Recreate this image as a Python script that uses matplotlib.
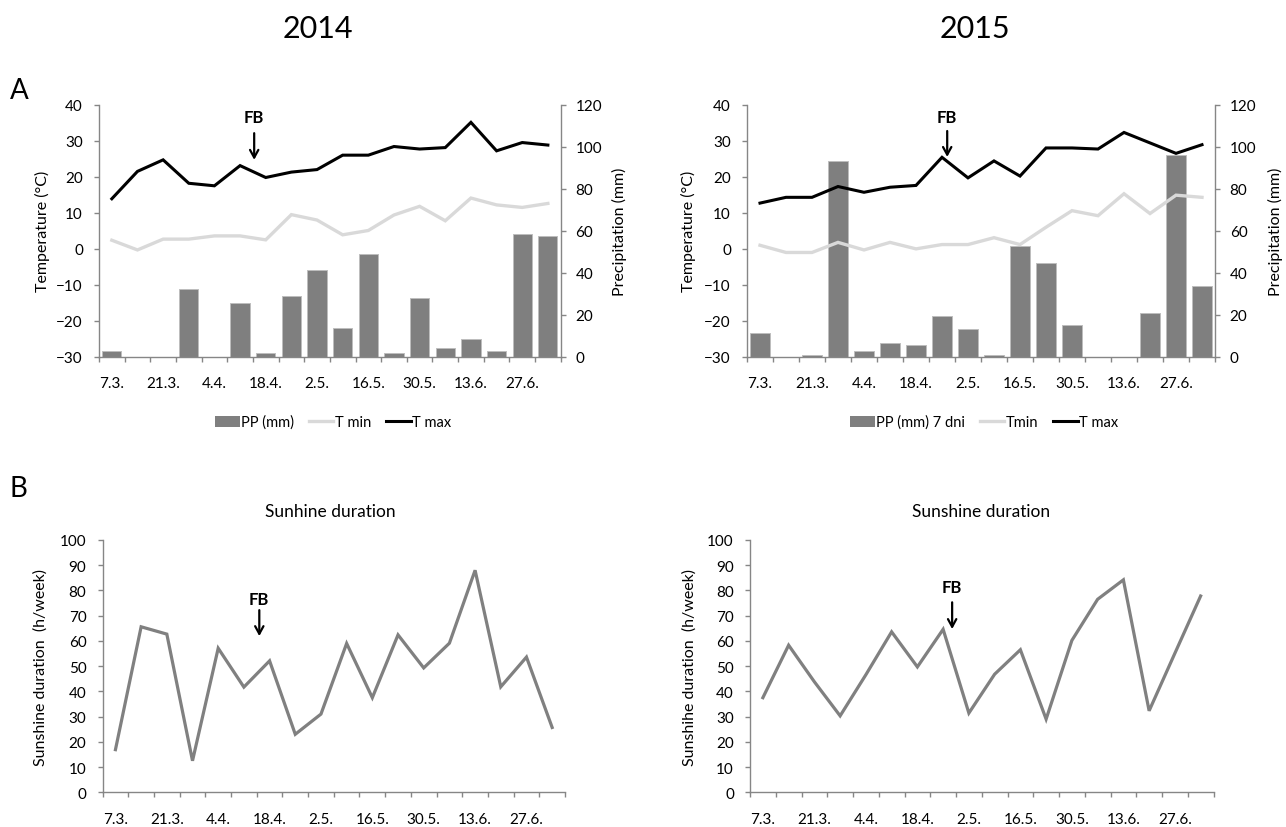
import matplotlib
matplotlib.use("Agg")
import matplotlib.pyplot as plt
from matplotlib.lines import Line2D
from matplotlib.patches import Patch
import numpy as np

plt.rcParams['font.family'] = ['Lato', 'DejaVu Sans']

# ---- data -------------------------------------------------------------
tick_labels = ["7.3.", "21.3.", "4.4.", "18.4.", "2.5.", "16.5.", "30.5.", "13.6.", "27.6."]

# weekly precipitation (mm), weekly min / max temperature (deg C)
pp_2014 = [3.0, 0, 0, 32.5, 0, 25.7, 2.0, 29.0, 41.4, 13.8, 49.0, 2.0, 28.2, 4.4, 8.6, 3.0, 58.5, 57.4]
tmin_2014 = [2.4, -0.3, 2.7, 2.7, 3.6, 3.6, 2.5, 9.5, 8.0, 3.9, 5.1, 9.4, 11.8, 7.8, 14.1, 12.2, 11.5, 12.6]
tmax_2014 = [13.9, 21.5, 24.7, 18.2, 17.5, 23.1, 19.8, 21.3, 22.0, 26.0, 26.0, 28.4, 27.7, 28.1, 35.1, 27.2, 29.5, 28.8]

pp_2015 = [11.6, 0, 0.8, 93.0, 3.0, 6.8, 5.5, 19.7, 13.3, 0.8, 52.7, 44.8, 15.2, 0, 0, 21.1, 96.3, 33.8]
tmin_2015 = [1.0, -1.0, -1.0, 1.8, -0.3, 1.8, 0.0, 1.2, 1.2, 3.1, 1.2, 6.0, 10.6, 9.2, 15.3, 9.8, 14.9, 14.3]
tmax_2015 = [12.7, 14.3, 14.3, 17.3, 15.7, 17.1, 17.6, 25.4, 19.7, 24.4, 20.2, 28.0, 28.0, 27.7, 32.3, 29.4, 26.5, 28.9]

# weekly sunshine duration (h/week)
sun_2014 = [16.9, 65.6, 62.7, 12.5, 57.1, 41.7, 52.1, 23.0, 31.0, 59.0, 37.5, 62.4, 49.3, 59.1, 88.0, 41.8, 53.6, 25.7]
sun_2015 = [37.5, 58.3, 43.8, 30.3, 46.6, 63.6, 49.7, 64.6, 31.4, 46.8, 56.5, 29.0, 60.2, 76.5, 84.2, 32.3, 55.1, 77.8]

# ---- styling ----------------------------------------------------------
W, H = 1286, 828
SPINE = '#868686'
BAR = '#7f7f7f'
TMIN = '#d9d9d9'
SUN = '#808080'
TICK_FS = 11
LABEL_FS = 11.5
LEGEND_FS = 10.5

fig = plt.figure(figsize=(W / 100, H / 100), dpi=100)


def px_axes(x0, x1, ytop, ybot):
    return fig.add_axes([x0 / W, 1 - ybot / H, (x1 - x0) / W, (ybot - ytop) / H])


def style_x(ax, n):
    ax.set_xlim(-0.5, n - 0.5)
    ax.set_xticks(np.arange(0, n, 2)[:len(tick_labels)])
    ax.set_xticklabels(tick_labels)
    ax.set_xticks(np.arange(-0.5, n, 1), minor=True)
    ax.tick_params(axis='x', which='major', length=0, pad=14, labelsize=TICK_FS)
    ax.tick_params(axis='x', which='minor', length=3.6, width=1, color=SPINE)


def fb_arrow(ax, x, y_text, y_top, y_tip):
    ax.text(x, y_text, 'FB', ha='center', va='baseline', fontsize=12,
            fontweight='bold', color='black')
    ax.annotate('', xy=(x, y_tip), xytext=(x, y_top),
                arrowprops=dict(arrowstyle='->,head_length=0.55,head_width=0.3',
                                color='black', lw=1.6, shrinkA=0, shrinkB=0))


def climate_panel(x0, x1, pp, tmin, tmax, left_lab_x, right_lab_x, fb):
    ax = px_axes(x0, x1, 105.7, 358)
    ax2 = ax.twinx()
    n = len(pp)
    x = np.arange(n)
    ax2.bar(x, pp, width=0.75, color=BAR, edgecolor='#bdbdbd', linewidth=0.7)
    ax.plot(x, tmin, color=TMIN, lw=2.4, solid_joinstyle='miter')
    ax.plot(x, tmax, color='black', lw=2.2, solid_joinstyle='miter')
    ax.set_zorder(ax2.get_zorder() + 1)
    ax.patch.set_visible(False)

    ax.set_ylim(-30, 40)
    ax.set_yticks(np.arange(-30, 41, 10))
    ax2.set_ylim(0, 120)
    ax2.set_yticks(np.arange(0, 121, 20))
    style_x(ax, n)

    for s in ['top', 'right']:
        ax.spines[s].set_visible(False)
    for s in ['top', 'left', 'bottom']:
        ax2.spines[s].set_visible(False)
    for a, s in [(ax, 'left'), (ax, 'bottom'), (ax2, 'right')]:
        a.spines[s].set_color(SPINE)
        a.spines[s].set_linewidth(1)
    ax.tick_params(axis='y', length=3.6, width=1, color=SPINE, pad=8, labelsize=TICK_FS)
    ax2.tick_params(axis='y', length=3.6, width=1, color=SPINE, pad=7, labelsize=TICK_FS)

    width = x1 - x0
    ax.set_ylabel('Temperature (°C)', fontsize=LABEL_FS)
    ax.yaxis.set_label_coords((left_lab_x - x0) / width, 0.5)
    ax.yaxis.label.set_verticalalignment('center')
    ax2.set_ylabel('Precipitation (mm)', fontsize=LABEL_FS)
    ax2.yaxis.set_label_coords((right_lab_x - x0) / width, 0.5)
    ax2.yaxis.label.set_verticalalignment('center')

    fb_arrow(ax, *fb)
    return ax


def sun_panel(x0, x1, sun, title, ylab, lab_x, title_x, fb):
    ax = px_axes(x0, x1, 541, 793.3)
    n = len(sun)
    ax.plot(np.arange(n), sun, color=SUN, lw=2.3, solid_joinstyle='miter')
    ax.set_ylim(0, 100)
    ax.set_yticks(np.arange(0, 101, 10))
    style_x(ax, n)
    for s in ['top', 'right']:
        ax.spines[s].set_visible(False)
    for s in ['left', 'bottom']:
        ax.spines[s].set_color(SPINE)
        ax.spines[s].set_linewidth(1)
    ax.tick_params(axis='y', length=3.6, width=1, color=SPINE, pad=8, labelsize=TICK_FS)
    ax.set_ylabel(ylab, fontsize=LABEL_FS)
    ax.yaxis.set_label_coords((lab_x - x0) / (x1 - x0), 0.5)
    ax.yaxis.label.set_verticalalignment('center')
    fig.text(title_x / W, 1 - 517 / H, title, ha='center', va='baseline', fontsize=12.5)
    fb_arrow(ax, *fb)
    return ax


# ---- panel A: temperature and precipitation ----------------------------
climate_panel(99, 560.7, pp_2014, tmin_2014, tmax_2014, 42, 619,
              (5.55, 35.1, 32.1, 24.7))
climate_panel(747, 1215, pp_2015, tmin_2015, tmax_2015, 688.6, 1275,
              (7.2, 35.3, 32.7, 25.5))

# legends
fig.legend([Patch(facecolor=BAR, edgecolor='none'),
            Line2D([], [], color=TMIN, lw=2.4),
            Line2D([], [], color='black', lw=2.2)],
           ['PP (mm)', 'T min', 'T max'],
           loc='center', bbox_to_anchor=(333 / W, 1 - 423 / H), ncol=3,
           frameon=False, fontsize=LEGEND_FS, handlelength=1.7, handleheight=0.8,
           handletextpad=0.1, columnspacing=1.0)
fig.legend([Patch(facecolor=BAR, edgecolor='none'),
            Line2D([], [], color=TMIN, lw=2.4),
            Line2D([], [], color='black', lw=2.2)],
           ['PP (mm) 7 dni', 'Tmin', 'T max'],
           loc='center', bbox_to_anchor=(984 / W, 1 - 423 / H), ncol=3,
           frameon=False, fontsize=LEGEND_FS, handlelength=1.7, handleheight=0.8,
           handletextpad=0.1, columnspacing=1.0)

# ---- panel B: sunshine duration -----------------------------------------
sun_panel(102.6, 565, sun_2014, 'Sunhine duration', 'Sunshine duration  (h/week)',
          41, 330.6, (5.6, 74.6, 72.2, 61.9))
sun_panel(750, 1213.5, sun_2015, 'Sunshine duration', 'Sunshihe duration  (h/week)',
          690, 981, (7.35, 79.3, 75.3, 64.7))

# ---- headings -------------------------------------------------------------
fig.text(318 / W, 1 - 38 / H, '2014', ha='center', va='baseline', fontsize=22)
fig.text(975 / W, 1 - 38 / H, '2015', ha='center', va='baseline', fontsize=22)
fig.text(10 / W, 1 - 99 / H, 'A', ha='left', va='baseline', fontsize=20)
fig.text(10 / W, 1 - 497 / H, 'B', ha='left', va='baseline', fontsize=20)

fig.savefig('out.png', dpi=100, facecolor='white')
